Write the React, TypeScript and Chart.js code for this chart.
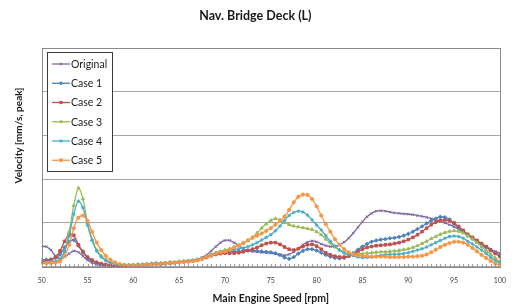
import React, { useEffect, useRef } from 'react';
import { Chart, registerables } from 'chart.js';
import { drawPoint } from 'chart.js/helpers';

Chart.register(...registerables);

const TITLE = 'Nav. Bridge Deck (L)';
const X_TITLE = 'Main Engine Speed [rpm]';
const Y_TITLE = 'Velocity [mm/s, peak]';

// engine speed categories, every 0.5 rpm from 50 to 100
const RPM: number[] = Array.from({ length: 101 }, (_, i) => 50 + i * 0.5);

const ORIGINAL = [
  0.46, 0.46, 0.38, 0.25, 0.18, 0.22, 0.30, 0.36, 0.33, 0.24,
  0.15, 0.09, 0.05, 0.03, 0.02, 0.02, 0.02, 0.02, 0.02, 0.03,
  0.03, 0.04, 0.05, 0.05, 0.06, 0.07, 0.07, 0.08, 0.09, 0.10,
  0.11, 0.12, 0.13, 0.15, 0.17, 0.21, 0.27, 0.36, 0.46, 0.55,
  0.60, 0.60, 0.55, 0.48, 0.41, 0.37, 0.35, 0.34, 0.33, 0.32,
  0.31, 0.29, 0.27, 0.26, 0.28, 0.34, 0.42, 0.50, 0.56, 0.59,
  0.57, 0.52, 0.48, 0.46, 0.46, 0.50, 0.56, 0.65, 0.77, 0.90,
  1.03, 1.14, 1.22, 1.27, 1.28, 1.27, 1.25, 1.23, 1.22, 1.21,
  1.20, 1.19, 1.17, 1.15, 1.13, 1.10, 1.07, 1.04, 1.00, 0.96,
  0.91, 0.86, 0.80, 0.73, 0.66, 0.58, 0.52, 0.46, 0.40, 0.35,
  0.31,
];
const CASE1 = [
  0.16, 0.16, 0.17, 0.20, 0.28, 0.44, 0.57, 0.61, 0.48, 0.32,
  0.20, 0.13, 0.08, 0.05, 0.04, 0.03, 0.03, 0.03, 0.03, 0.03,
  0.04, 0.04, 0.05, 0.05, 0.06, 0.07, 0.07, 0.08, 0.09, 0.10,
  0.10, 0.11, 0.12, 0.13, 0.15, 0.18, 0.22, 0.27, 0.31, 0.34,
  0.35, 0.35, 0.35, 0.35, 0.36, 0.37, 0.37, 0.36, 0.35, 0.34,
  0.33, 0.31, 0.27, 0.21, 0.18, 0.22, 0.30, 0.36, 0.40, 0.40,
  0.37, 0.32, 0.27, 0.23, 0.20, 0.19, 0.20, 0.24, 0.31, 0.39,
  0.46, 0.52, 0.57, 0.60, 0.62, 0.63, 0.65, 0.66, 0.68, 0.71,
  0.75, 0.80, 0.86, 0.92, 0.99, 1.05, 1.10, 1.14, 1.13, 1.08,
  0.98, 0.88, 0.79, 0.71, 0.65, 0.58, 0.50, 0.44, 0.37, 0.31,
  0.27,
];
const CASE2 = [
  0.12, 0.13, 0.15, 0.22, 0.36, 0.58, 0.74, 0.72, 0.50, 0.35,
  0.22, 0.15, 0.10, 0.07, 0.05, 0.03, 0.02, 0.01, 0.01, 0.01,
  0.02, 0.02, 0.03, 0.04, 0.05, 0.06, 0.06, 0.07, 0.08, 0.09,
  0.10, 0.11, 0.12, 0.13, 0.15, 0.18, 0.21, 0.25, 0.28, 0.30,
  0.31, 0.31, 0.31, 0.32, 0.34, 0.37, 0.40, 0.44, 0.49, 0.53,
  0.55, 0.55, 0.51, 0.45, 0.40, 0.38, 0.41, 0.46, 0.50, 0.51,
  0.47, 0.40, 0.32, 0.27, 0.24, 0.22, 0.22, 0.24, 0.28, 0.34,
  0.40, 0.44, 0.46, 0.48, 0.49, 0.50, 0.51, 0.53, 0.55, 0.58,
  0.62, 0.67, 0.73, 0.80, 0.88, 0.96, 1.02, 1.06, 1.07, 1.05,
  1.00, 0.92, 0.83, 0.74, 0.67, 0.60, 0.53, 0.46, 0.38, 0.30,
  0.23,
];
const CASE3 = [
  0.08, 0.08, 0.09, 0.10, 0.15, 0.35, 0.80, 1.40, 1.80, 1.55,
  1.00, 0.62, 0.38, 0.25, 0.16, 0.10, 0.07, 0.05, 0.04, 0.04,
  0.04, 0.05, 0.05, 0.06, 0.07, 0.08, 0.08, 0.09, 0.10, 0.11,
  0.12, 0.13, 0.14, 0.15, 0.17, 0.20, 0.24, 0.28, 0.32, 0.35,
  0.38, 0.41, 0.45, 0.49, 0.54, 0.60, 0.67, 0.77, 0.88, 0.98,
  1.06, 1.10, 1.07, 1.01, 0.96, 0.93, 0.91, 0.89, 0.87, 0.85,
  0.80, 0.73, 0.63, 0.54, 0.45, 0.38, 0.33, 0.30, 0.29, 0.29,
  0.30, 0.31, 0.32, 0.33, 0.34, 0.34, 0.35, 0.36, 0.37, 0.39,
  0.41, 0.44, 0.48, 0.53, 0.58, 0.64, 0.69, 0.74, 0.78, 0.81,
  0.82, 0.81, 0.77, 0.71, 0.63, 0.55, 0.46, 0.37, 0.28, 0.20,
  0.12,
];
const CASE4 = [
  0.10, 0.10, 0.11, 0.13, 0.18, 0.35, 0.70, 1.20, 1.50, 1.35,
  0.95, 0.60, 0.36, 0.22, 0.14, 0.09, 0.06, 0.05, 0.04, 0.04,
  0.04, 0.05, 0.05, 0.06, 0.07, 0.08, 0.08, 0.09, 0.10, 0.10,
  0.11, 0.12, 0.13, 0.14, 0.16, 0.19, 0.23, 0.27, 0.31, 0.34,
  0.36, 0.38, 0.39, 0.41, 0.43, 0.46, 0.50, 0.55, 0.61, 0.67,
  0.73, 0.82, 0.93, 1.06, 1.17, 1.24, 1.27, 1.25, 1.18, 1.07,
  0.95, 0.84, 0.71, 0.58, 0.47, 0.38, 0.31, 0.27, 0.25, 0.22,
  0.21, 0.21, 0.22, 0.24, 0.26, 0.27, 0.28, 0.28, 0.29, 0.30,
  0.32, 0.35, 0.38, 0.41, 0.45, 0.50, 0.55, 0.60, 0.65, 0.69,
  0.70, 0.69, 0.65, 0.58, 0.52, 0.45, 0.38, 0.30, 0.21, 0.14,
  0.08,
];
const CASE5 = [
  0.08, 0.08, 0.08, 0.09, 0.12, 0.25, 0.50, 0.88, 1.12, 1.17,
  1.05, 0.80, 0.55, 0.38, 0.25, 0.16, 0.10, 0.06, 0.04, 0.03,
  0.03, 0.03, 0.04, 0.05, 0.05, 0.06, 0.07, 0.08, 0.09, 0.09,
  0.10, 0.11, 0.12, 0.13, 0.15, 0.18, 0.22, 0.26, 0.30, 0.33,
  0.35, 0.39, 0.44, 0.49, 0.54, 0.60, 0.66, 0.71, 0.76, 0.82,
  0.88, 0.96, 1.05, 1.15, 1.30, 1.47, 1.60, 1.65, 1.64, 1.55,
  1.38, 1.17, 0.97, 0.80, 0.63, 0.50, 0.40, 0.33, 0.28, 0.26,
  0.25, 0.24, 0.23, 0.23, 0.23, 0.23, 0.22, 0.22, 0.22, 0.22,
  0.23, 0.23, 0.24, 0.25, 0.28, 0.33, 0.39, 0.45, 0.50, 0.54,
  0.57, 0.57, 0.55, 0.50, 0.43, 0.35, 0.27, 0.20, 0.13, 0.07,
  0.04,
];

const SERIES_NAMES = ['Original', 'Case 1', 'Case 2', 'Case 3', 'Case 4', 'Case 5'];
const SERIES_VALUES = [ORIGINAL, CASE1, CASE2, CASE3, CASE4, CASE5];
const SERIES_COLORS = ['#8064A2', '#4F81BD', '#C0504D', '#9BBB59', '#4BACC6', '#F79646'];
const SERIES_MARKERS = ['crossRot', 'rectRot', 'rect', 'triangle', 'star', 'circle'];
const SERIES_RADIUS = [1.8, 1.8, 1.8, 1.8, 1.8, 1.6];

const FONT = 'Lato, "Open Sans", sans-serif';

const frameAndTicks = {
  id: 'frameAndTicks',
  afterDatasetsDraw(chart: any) {
    const { ctx, chartArea } = chart;
    const xs = chart.scales.x;
    ctx.save();
    ctx.strokeStyle = '#8a8a8a';
    ctx.lineWidth = 1;
    ctx.strokeRect(
      Math.round(chartArea.left) + 0.5,
      Math.round(chartArea.top) + 0.5,
      Math.round(chartArea.right) - Math.round(chartArea.left),
      Math.round(chartArea.bottom) - Math.round(chartArea.top)
    );
    ctx.strokeStyle = '#9a9a9a';
    ctx.beginPath();
    const b = Math.round(chartArea.bottom);
    RPM.forEach((v) => {
      const px = Math.round(xs.getPixelForValue(v)) + 0.5;
      ctx.moveTo(px, b);
      ctx.lineTo(px, b - 3);
    });
    ctx.stroke();
    ctx.restore();
  },
};

const boxLegend = {
  id: 'boxLegend',
  afterDraw(chart: any) {
    const { ctx } = chart;
    const left = 47.5, top = 52.5, w = 65, h = 119;
    ctx.save();
    ctx.fillStyle = '#ffffff';
    ctx.fillRect(left, top, w, h);
    ctx.strokeStyle = '#3a3a3a';
    ctx.lineWidth = 1;
    ctx.strokeRect(left, top, w, h);
    ctx.font = '10.5px ' + FONT;
    ctx.textBaseline = 'middle';
    ctx.textAlign = 'left';
    chart.data.datasets.forEach((ds: any, i: number) => {
      const y = 64 + i * 19.25;
      ctx.strokeStyle = ds.borderColor;
      ctx.lineWidth = 1.3;
      ctx.beginPath();
      ctx.moveTo(52, y);
      ctx.lineTo(70, y);
      ctx.stroke();
      ctx.fillStyle = ds.borderColor;
      ctx.strokeStyle = ds.borderColor;
      ctx.lineWidth = 1;
      drawPoint(ctx, { pointStyle: ds.pointStyle, radius: 1.6, rotation: 0, borderWidth: 1 }, 61, y);
      ctx.fillStyle = '#1a1a1a';
      ctx.fillText(ds.label, 71, y + 0.5);
    });
    ctx.restore();
  },
};

export default function App() {
  const ref = useRef<HTMLCanvasElement | null>(null);

  useEffect(() => {
    if (!ref.current) return;
    const datasets = SERIES_NAMES.map((name, i) => ({
      label: name,
      data: RPM.map((r, j) => ({ x: r, y: SERIES_VALUES[i][j] })),
      borderColor: SERIES_COLORS[i],
      backgroundColor: SERIES_COLORS[i],
      pointStyle: SERIES_MARKERS[i],
      pointRadius: SERIES_RADIUS[i],
      pointBorderWidth: 1,
      borderWidth: 1.3,
      tension: 0.3,
      fill: false,
      order: SERIES_NAMES.length - i,
    }));
    const chart = new Chart(ref.current, {
      type: 'line',
      data: { datasets },
      options: {
        animation: false,
        responsive: true,
        maintainAspectRatio: false,
        layout: { padding: { left: 0, top: 0, right: 5.3, bottom: 0 } },
        plugins: {
          legend: { display: false },
          tooltip: { enabled: false },
          title: {
            display: true,
            text: TITLE,
            color: '#1a1a1a',
            font: { family: FONT, size: 12.5, weight: 'bold', lineHeight: 1.2 },
            padding: { top: 8.5, bottom: 24.5 },
          },
        },
        scales: {
          x: {
            type: 'linear',
            min: 50,
            max: 100,
            afterFit: (s: any) => { s.height = 39.3; },
            grid: { display: false, drawTicks: false },
            border: { display: false },
            ticks: {
              stepSize: 5,
              padding: 10,
              maxRotation: 0,
              color: '#404040',
              font: { family: FONT, size: 7 },
            },
            title: {
              display: true,
              text: X_TITLE,
              color: '#1a1a1a',
              font: { family: FONT, size: 10.5, weight: 'bold', lineHeight: 1.2 },
              padding: { top: 0, bottom: 1.5 },
            },
          },
          y: {
            type: 'linear',
            min: 0,
            max: 5,
            afterFit: (s: any) => { s.width = 41.7; },
            grid: { color: '#a6a6a6', lineWidth: 1, drawTicks: false },
            border: { display: false },
            ticks: { display: false, stepSize: 1 },
            title: {
              display: true,
              text: '                  ' + Y_TITLE,
              color: '#1a1a1a',
              font: { family: FONT, size: 10, weight: 'bold', lineHeight: 1.2 },
              padding: { top: 12.5, bottom: 0 },
            },
          },
        },
      },
      plugins: [frameAndTicks, boxLegend],
    } as any);
    return () => chart.destroy();
  }, []);

  return (
    <div style={{ position: 'absolute', left: 0, top: 0, width: 516, height: 306, background: '#fff' }}>
      <canvas ref={ref} />
    </div>
  );
}
